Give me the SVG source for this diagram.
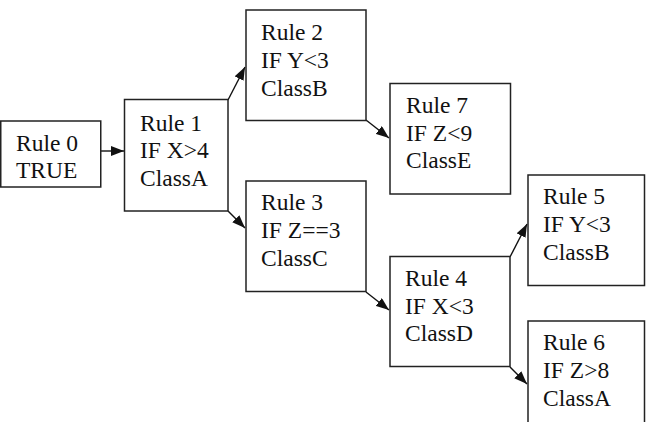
<svg xmlns="http://www.w3.org/2000/svg" width="648" height="422" viewBox="0 0 648 422">
<defs>
<style>
rect{fill:#fff;stroke:#222;stroke-width:1.5}
text{font-family:'Liberation Serif','Times New Roman','DejaVu Serif',serif;font-size:23.5px;fill:#111}
.c{stroke:#111;stroke-width:1.4;fill:none;marker-end:url(#ah)}
</style>
<marker id="ah" markerWidth="13" markerHeight="10" viewBox="0 0 13 10" refX="13" refY="5" orient="auto" markerUnits="userSpaceOnUse">
<path d="M0,0 L13,5 L0,10 Z" fill="#111"/>
</marker>
</defs>
<rect width="648" height="422" style="fill:#fff;stroke:none"/>
<g id="connectors">
<line class="c" x1="101" y1="151" x2="124" y2="151"/>
<line class="c" x1="228" y1="100" x2="245" y2="67"/>
<line class="c" x1="228" y1="211" x2="245" y2="228"/>
<line class="c" x1="366" y1="120" x2="389" y2="138"/>
<line class="c" x1="366" y1="292" x2="389" y2="310"/>
<line class="c" x1="510" y1="257" x2="527" y2="224"/>
<line class="c" x1="510" y1="367" x2="527" y2="384"/>
</g>
<g id="rule0">
<rect x="0.75" y="121" width="100" height="66"/>
<text x="16" y="151">Rule 0</text>
<text x="16" y="178">TRUE</text>
</g>
<g id="rule1">
<rect x="124.5" y="99.5" width="103.5" height="111.5"/>
<text x="140" y="131">Rule 1</text>
<text x="140" y="158">IF X&gt;4</text>
<text x="140" y="186">ClassA</text>
</g>
<g id="rule2">
<rect x="246" y="10" width="120" height="110.5"/>
<text x="261" y="40">Rule 2</text>
<text x="261" y="68">IF Y&lt;3</text>
<text x="261" y="96">ClassB</text>
</g>
<g id="rule7">
<rect x="390" y="83.5" width="120.5" height="110.5"/>
<text x="406" y="113">Rule 7</text>
<text x="406" y="141">IF Z&lt;9</text>
<text x="406" y="168">ClassE</text>
</g>
<g id="rule3">
<rect x="246" y="181" width="120" height="110.5"/>
<text x="261" y="210">Rule 3</text>
<text x="261" y="238">IF Z==3</text>
<text x="261" y="266">ClassC</text>
</g>
<g id="rule4">
<rect x="390" y="256.5" width="120" height="110"/>
<text x="405" y="286">Rule 4</text>
<text x="405" y="314">IF X&lt;3</text>
<text x="405" y="341">ClassD</text>
</g>
<g id="rule5">
<rect x="528" y="175" width="116.5" height="110.5"/>
<text x="543" y="204">Rule 5</text>
<text x="543" y="232">IF Y&lt;3</text>
<text x="543" y="260">ClassB</text>
</g>
<g id="rule6">
<rect x="528" y="321" width="116.5" height="110"/>
<text x="543" y="350">Rule 6</text>
<text x="543" y="378">IF Z&gt;8</text>
<text x="543" y="406">ClassA</text>
</g>
</svg>
